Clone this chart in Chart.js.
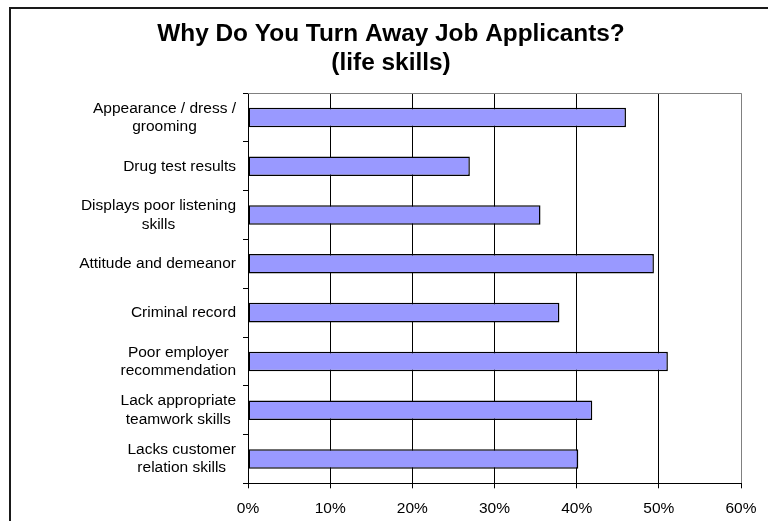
<!DOCTYPE html>
<html>
<head>
<meta charset="utf-8">
<title>Why Do You Turn Away Job Applicants?</title>
<script src="https://cdn.jsdelivr.net/npm/chart.js@4/dist/chart.umd.min.js"></script>
<style>
  html, body { margin: 0; padding: 0; background: #fff; overflow: hidden; }
  #wrap { position: relative; width: 768px; height: 521px; overflow: hidden; }
  #frame { position: absolute; left: 9px; top: 7px; width: 800px; height: 600px;
           border-left: 2px solid #1a1a1a; border-top: 2px solid #1a1a1a; }
  #chart { position: absolute; left: 0; top: 0; }
</style>
</head>
<body>
<div id="wrap">
  <div id="frame"></div>
  <canvas id="chart" width="768" height="521"></canvas>
</div>
<script>
// Reasons, one entry per bar (each entry = lines of the label)
const reasons = [
  ['Appearance / dress /', 'grooming'],
  ['Drug test results'],
  ['Displays poor listening', 'skills'],
  ['Attitude and demeanor'],
  ['Criminal record'],
  ['Poor employer', 'recommendation'],
  ['Lack appropriate', 'teamwork skills'],
  ['Lacks customer', 'relation skills']
];

// Share of employers turning applicants away (%)
const shares = [46, 27, 35.6, 49.4, 37.9, 51.1, 41.9, 40.2];

const tickLabels = ['0%', '10%', '20%', '30%', '40%', '50%', '60%'];

const titleLines = ['Why Do You Turn Away Job Applicants?', '(life skills)'];

const FONT = 'Arial, "Liberation Sans", sans-serif';

// category labels: block right-aligned to the axis, lines centred inside the block
const categoryLabels = {
  id: 'categoryLabels',
  beforeDatasetsDraw(chart) {
    // grey top edge of the plot area
    const { ctx, chartArea } = chart;
    ctx.save();
    ctx.strokeStyle = '#808080';
    ctx.lineWidth = 1;
    ctx.beginPath();
    const top = Math.round(chartArea.top) + 0.5;
    ctx.moveTo(chartArea.left, top);
    ctx.lineTo(chartArea.right, top);
    ctx.stroke();
    ctx.restore();
  },
  afterDraw(chart) {
    const ctx = chart.ctx;
    const scale = chart.scales.y;
    ctx.save();
    ctx.font = '15.5px ' + FONT;
    ctx.fillStyle = '#000';
    ctx.textAlign = 'center';
    ctx.textBaseline = 'middle';
    const right = chart.chartArea.left - 12;
    reasons.forEach((lines, i) => {
      const y = scale.getPixelForTick(i);
      const w = Math.max(...lines.map(l => ctx.measureText(l).width));
      const cx = right - w / 2;
      lines.forEach((line, j) => {
        ctx.fillText(line, cx, y + (j - (lines.length - 1) / 2) * 18.3);
      });
    });
    ctx.restore();
  }
};

new Chart(document.getElementById('chart'), {
  type: 'bar',
  data: {
    labels: reasons,
    datasets: [{
      data: shares,
      backgroundColor: '#9999ff',
      borderColor: '#000',
      borderWidth: 1.5,
      borderSkipped: false,
      barPercentage: 0.4,
      categoryPercentage: 1
    }]
  },
  options: {
    indexAxis: 'y',
    responsive: false,
    animation: false,
    layout: { padding: { left: 41, right: 27, top: 8, bottom: 0 } },
    plugins: {
      legend: { display: false },
      tooltip: { enabled: false },
      title: {
        display: true,
        text: titleLines,
        color: '#000',
        font: { family: FONT, size: 24.4, weight: 'bold', lineHeight: 1.18 },
        padding: { top: 12, bottom: 15.6 }
      }
    },
    scales: {
      x: {
        min: 0,
        max: 60,
        ticks: {
          stepSize: 10,
          padding: 11,
          color: '#000',
          font: { family: FONT, size: 15.5 },
          callback: (v, i) => tickLabels[i]
        },
        grid: {
          color: c => c.index === tickLabels.length - 1 ? '#808080' : '#000',
          tickColor: '#000',
          tickLength: 5,
          lineWidth: 1
        },
        border: { color: '#000', width: 1 },
        afterFit(s) { s.height = 37.7; }
      },
      y: {
        grid: {
          offset: true,
          drawOnChartArea: false,
          color: '#000',
          tickColor: '#000',
          tickLength: 5
        },
        border: { color: '#000', width: 1 },
        ticks: { color: 'transparent', font: { family: FONT, size: 15.5 } },
        afterFit(s) { s.width = 207; }
      }
    }
  },
  plugins: [categoryLabels]
});
</script>
</body>
</html>
